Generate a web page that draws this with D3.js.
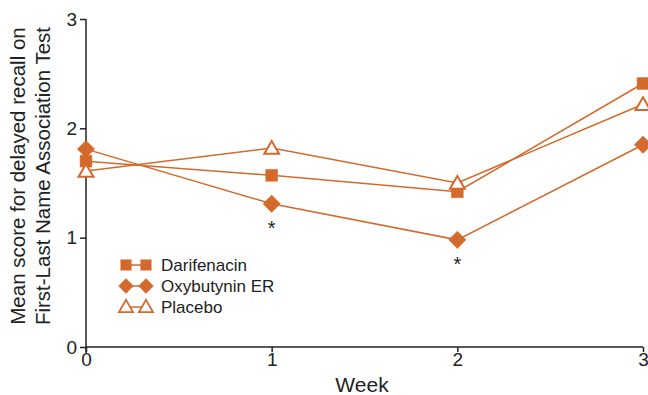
<!DOCTYPE html>
<html><head><meta charset="utf-8">
<script src="https://cdn.jsdelivr.net/npm/d3@7"></script>
<style>body{margin:0;background:#fff;}svg{display:block;font-family:"Liberation Sans",Arial,sans-serif;}</style>
</head><body>
<svg id="c" width="648" height="395"></svg>
<script>
const weeks = [0, 1, 2, 3];
const darifenacin = [1.70, 1.57, 1.42, 2.41];
const oxybutynin = [1.81, 1.31, 0.98, 1.85];
const placebo = [1.61, 1.82, 1.50, 2.22];
const seriesNames = ["Darifenacin", "Oxybutynin ER", "Placebo"];
const yTicks = [0, 1, 2, 3];
const xTicks = [0, 1, 2, 3];
const significant = [{week: 1, value: 1.31}, {week: 2, value: 0.98}];

const color = "#d4692c";
const svg = d3.select("#c");
const x = d3.scaleLinear().domain([0, 3]).range([86, 643]);
const y = d3.scaleLinear().domain([0, 3]).range([347, 19]);
const fmt = d3.format("d");

// axes
const yAx = svg.append("g").attr("transform", "translate(86,0)")
  .call(d3.axisLeft(y).tickValues(yTicks).tickSize(6).tickPadding(3).tickFormat(fmt));
yAx.selectAll("text").attr("font-size", 19).attr("fill", "#222").style("font-family", "Liberation Sans, Arial, sans-serif");
yAx.select(".domain").attr("stroke", "#222").attr("stroke-width", 1.5).attr("d", "M0,19V353");
yAx.selectAll(".tick line").attr("stroke", "#222").attr("stroke-width", 1.5);

const xAx = svg.append("g").attr("transform", "translate(0,347)")
  .call(d3.axisBottom(x).tickValues(xTicks).tickSize(5).tickPadding(1).tickFormat(fmt));
xAx.selectAll("text").attr("font-size", 19).attr("fill", "#222").style("font-family", "Liberation Sans, Arial, sans-serif");
xAx.select(".domain").attr("stroke", "#222").attr("stroke-width", 1.5).attr("d", "M86,0H643");
xAx.selectAll(".tick line").attr("stroke", "#222").attr("stroke-width", 1.5);

// axis titles
svg.append("text").attr("x", 362).attr("y", 392).attr("text-anchor", "middle")
  .attr("font-size", 21).attr("fill", "#222").text("Week");
const yt = svg.append("text").attr("transform", "translate(0,176) rotate(-90)")
  .attr("text-anchor", "middle").attr("font-size", 20.5).attr("fill", "#222");
yt.append("tspan").attr("x", 0).attr("y", 25).text("Mean score for delayed recall on");
yt.append("tspan").attr("x", 0).attr("y", 50).text("First-Last Name Association Test");

const line = d3.line().x((d, i) => x(weeks[i])).y(d => y(d));
const data = [darifenacin, oxybutynin, placebo];
const shapes = [d3.symbolSquare, d3.symbolSquare, d3.symbolTriangle];
const rot = [0, 45, 0];
const sizes = [140, 150, 95];

data.forEach((s, k) => {
  svg.append("path").datum(s).attr("d", line).attr("fill", "none")
    .attr("stroke", color).attr("stroke-width", 1.5);
});
data.forEach((s, k) => {
  svg.selectAll(null).data(s).enter().append("path")
    .attr("transform", (d, i) => `translate(${x(weeks[i])},${y(d) + (k === 2 ? 1.5 : 0)}) rotate(${rot[k]})`)
    .attr("d", d3.symbol().type(shapes[k]).size(sizes[k]))
    .attr("fill", k === 2 ? "#fff" : color)
    .attr("stroke", color).attr("stroke-width", k === 2 ? 2 : 0.5);
});

// significance asterisks
svg.selectAll(null).data(significant).enter().append("text")
  .attr("x", d => x(d.week)).attr("y", d => y(d.value) + 31)
  .attr("text-anchor", "middle").attr("font-size", 20).attr("fill", "#222").text("*");

// legend
const lg = svg.append("g");
seriesNames.forEach((n, k) => {
  const ly = 265 + k * 21;
  lg.append("line").attr("x1", 126).attr("x2", 146).attr("y1", ly).attr("y2", ly)
    .attr("stroke", color).attr("stroke-width", 1.5);
  [126, 146].forEach(px => {
    lg.append("path").attr("transform", `translate(${px},${ly + (k === 2 ? 1 : 0)}) rotate(${rot[k]})`)
      .attr("d", d3.symbol().type(shapes[k]).size(k === 2 ? 85 : 110))
      .attr("fill", k === 2 ? "#fff" : color).attr("stroke", color)
      .attr("stroke-width", k === 2 ? 1.8 : 0.5);
  });
  lg.append("text").attr("x", 161).attr("y", ly + 6).attr("font-size", 17)
    .attr("fill", "#222").text(n);
});
</script>
</body></html>
